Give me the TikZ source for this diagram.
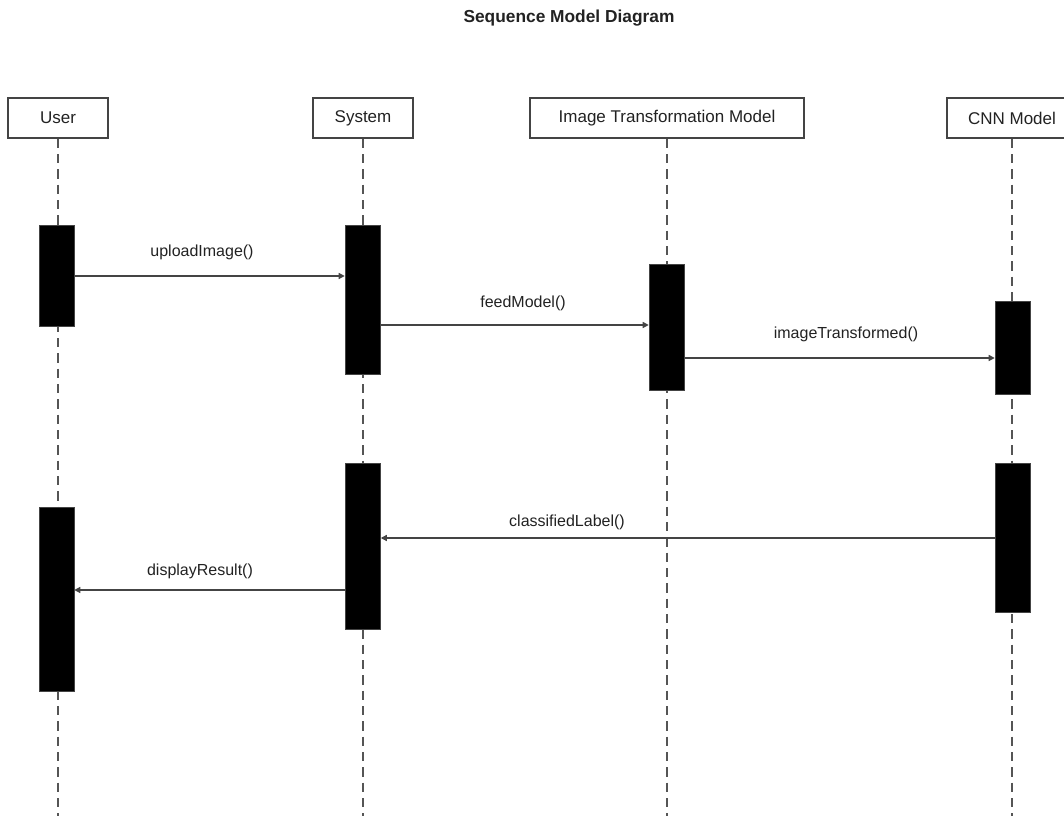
\documentclass[tikz,border=0pt]{standalone}
\usepackage{fontspec}
\setmainfont{Liberation Sans}
\usetikzlibrary{arrows.meta}
\definecolor{ink}{HTML}{222222}
\definecolor{edge}{HTML}{444444}
\definecolor{dashgray}{HTML}{555555}
\begin{document}
\begin{tikzpicture}[x=0.75pt,y=-0.75pt,
  actor/.style={draw=edge, line width=1.1pt, fill=white, minimum height=30pt,
    inner sep=0pt, text=ink, font=\fontsize{12.75}{15}\selectfont},
  lifeline/.style={draw=dashgray, line width=0.8pt, dash pattern=on 7pt off 4.5pt},
  activation/.style={draw=edge, line width=0.4pt, fill=black, minimum width=26.25pt,
    inner sep=0pt, anchor=north},
  msg/.style={draw=edge, line width=1pt, -{Triangle[length=4.5pt,width=4.5pt]}},
  msglabel/.style={text=ink, anchor=base, inner sep=0pt, font=\fontsize{12}{14}\selectfont}]
  \useasboundingbox (0,0) rectangle (1064,816);

  % title
  \node[anchor=base, text=ink, font=\bfseries\fontsize{13}{15}\selectfont] (title) at (569,23) {Sequence Model Diagram};

  % participants
  \node[actor, minimum width=75pt]    (user)  at (58,118)   {User};
  \node[actor, minimum width=75pt]    (sys)   at (363,118)  {System};
  \node[actor, minimum width=205.5pt] (itm)   at (667,118)  {Image Transformation Model};
  \node[actor, minimum width=97.5pt]  (cnn)   at (1012,118) {CNN Model};

  % lifelines
  \coordinate (bottom) at (0,816);
  \foreach \p in {user,sys,itm,cnn}
    \draw[lifeline] (\p.south) -- (\p.south |- bottom);

  % activation bars
  \node[activation, minimum height=75.75pt]  (u1) at (56.5,225)  {};
  \node[activation, minimum height=111.75pt] (s1) at (362.5,225) {};
  \node[activation, minimum height=94.5pt]   (t1) at (666.5,264) {};
  \node[activation, minimum height=69.75pt]  (c1) at (1012.5,301) {};
  \node[activation, minimum height=124.5pt]  (s2) at (363,463)   {};
  \node[activation, minimum height=111.75pt] (c2) at (1012.5,463) {};
  \node[activation, minimum height=138pt]    (u2) at (56.5,507)  {};

  % message levels
  \coordinate (m1) at (0,276);
  \coordinate (m2) at (0,325);
  \coordinate (m3) at (0,358);
  \coordinate (m4) at (0,538);
  \coordinate (m5) at (0,590);

  % messages
  \draw[msg] (u1.east |- m1) -- (s1.west |- m1);
  \draw[msg] (s1.east |- m2) -- (t1.west |- m2);
  \draw[msg] (t1.east |- m3) -- (c1.west |- m3);
  \draw[msg] (c2.west |- m4) -- (s2.east |- m4);
  \draw[msg] (s2.west |- m5) -- (u2.east |- m5);

  % message labels
  \node[msglabel] (l1) at (202,257) {uploadImage()};
  \node[msglabel] (l2) at (523,308) {feedModel()};
  \node[msglabel] (l3) at (846,339) {imageTransformed()};
  \node[msglabel] (l4) at (567,526) {classifiedLabel()};
  \node[msglabel] (l5) at (200,575) {displayResult()};
\end{tikzpicture}
\end{document}
